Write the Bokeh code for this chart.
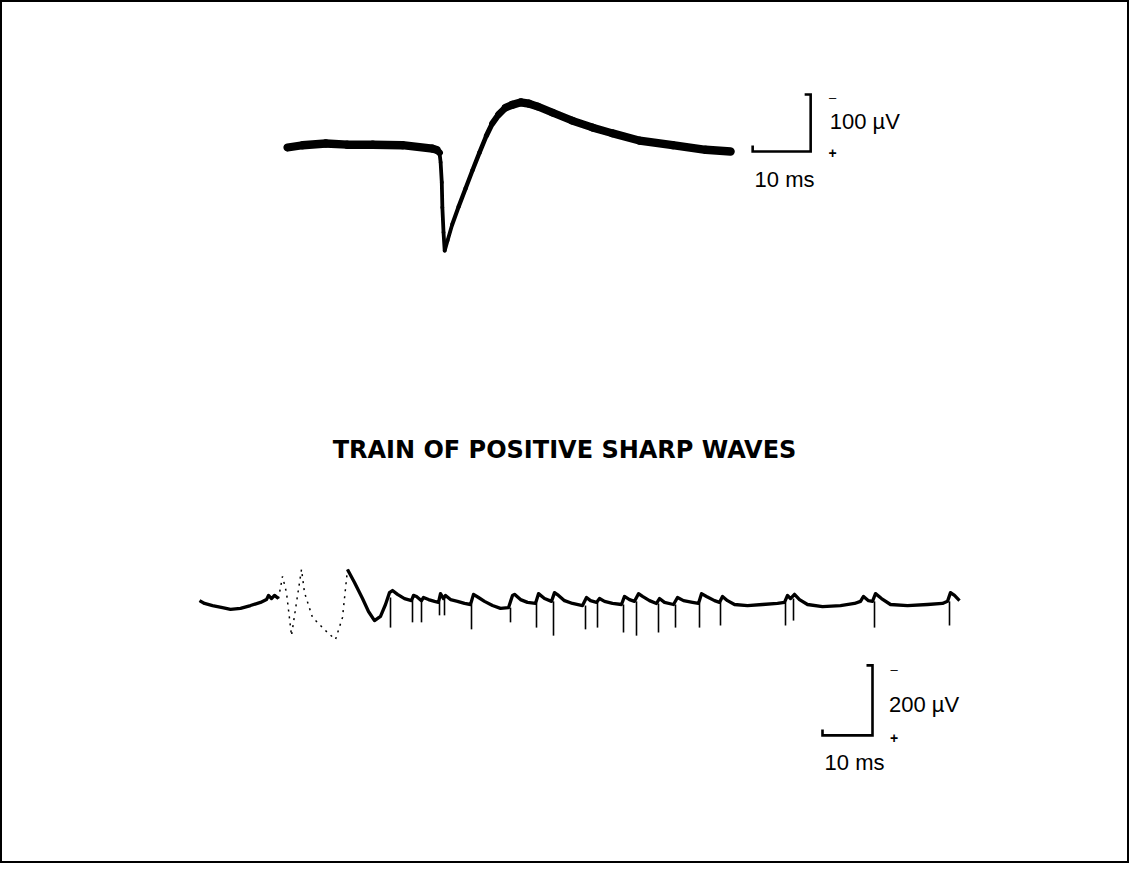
from bokeh.plotting import figure
from bokeh.models import Range1d
from bokeh.core.properties import value
from bokeh.embed import file_html
from bokeh.resources import INLINE

# ---------------- DATA ----------------
# Upper trace: single positive sharp wave (time in ms, potential in uV; + is drawn downward)
top_t = [0, 2.6, 6.6, 10.3, 14.7, 19.8, 25.0, 25.7, 26.2, 26.4, 26.6, 26.7, 26.9, 27.1,
         27.6, 28.4, 29.5, 30.7, 31.9, 33.1, 34.3, 35.3, 36.4, 37.6, 38.8, 40.2, 41.6,
         43.1, 45.7, 49.1, 52.6, 56.0, 60.7, 66.4, 72.1, 76.4]
top_v = [0, -4, -7, -5, -5, -4, 2, 4, 9, 26, 61, 105, 149, 181,
         163, 135, 104, 72, 40, 9, -21, -42, -58, -70, -75, -79, -77,
         -72, -61, -47, -35, -25, -12, -4, 4, 7]

# Lower trace: train of positive sharp waves (ms, uV)
low_a_t = [0, 1, 2.6, 4.6, 6.2, 8.2, 10.2, 12.2, 13.4, 13.8, 14.4, 15, 15.8]
low_a_v = [-11, -3, 3, 9, 14, 11, 3, -6, -14, -26, -17, -26, -17]

# faint (poorly recorded) fast deflections
low_b_t = [15.8, 16.6, 17.4, 18.4, 19.4, 20.4, 21, 22.6, 25.6, 27.2, 28.6, 29.6]
low_b_v = [-17, -80, -34, 89, -6, -100, -34, 37, 80, 100, 37, -100]

low_c_t = [29.6, 31, 32.6, 33.8, 35, 36.2, 37.2, 38, 38.6, 39.6, 41, 42.4, 42.8, 43.4,
           44.4, 44.8, 45.8, 47, 47.8, 48.2, 48.8, 49.2, 50.2, 51.6, 53, 54.2, 54.8,
           55.8, 57, 58.6, 60.2, 61.8, 62.6, 63, 64.2, 65.6, 67.2, 67.8, 69, 70.4,
           71, 71.8, 73, 74.6, 76.6, 77.4, 78.2, 79.4, 80, 81, 82.6, 84.4, 85, 86,
           87, 87.8, 88.6, 90, 91.4, 92, 93, 94.8, 95.6, 96.8, 98.6, 99.8, 100.4,
           101.4, 103, 104, 104.6, 105.6, 107, 109.6, 112.6, 115.6, 117, 117.6,
           118.2, 119, 120, 121.6, 124.6, 128.2, 131, 132.2, 132.8, 133.8, 134.6,
           135.2, 136.4, 138.2, 141.6, 145.6, 148.6, 149.6, 150.2, 151, 152]
low_c_v = [-100, -63, -17, 20, 46, 34, 0, -34, -40, -29, -17, -11, -26, -23,
           -11, -20, -14, -9, -6, -31, -17, -26, -14, -9, -3, 0, -29,
           -20, -9, 3, 11, 9, -26, -29, -14, -6, -3, -31, -17, -9,
           -34, -26, -11, -3, 3, -20, -11, -6, -17, -9, -3, 0, -23, -14,
           -9, -31, -23, -11, -3, -17, -6, 0, -20, -11, -6, -3, -31,
           -23, -11, -6, -23, -11, 0, 3, 0, -3, -6, -26,
           -17, -29, -14, 0, 6, 3, -3, -9, -23, -11, -9,
           -31, -17, 0, 3, 0, -3, -9, -34, -26, -11]

# initial sharp positive spikes of each discharge (time, start, tip)
spike_t = [38.2, 42.6, 44.4, 48, 49, 54.4, 62.2, 67.4, 70.8, 77.2, 79.6, 84.8, 87.4,
           91.8, 95.2, 100, 104.2, 117.2, 118.8, 135, 150]
spike_v0 = [-20, -11, -11, -6, -17, 0, 9, -3, -9, 3, -6, 0, -9,
            -3, 0, -3, -6, -6, -17, -9, -9]
spike_v1 = [66, 51, 51, 31, 31, 71, 51, 66, 89, 71, 66, 80, 89,
            80, 66, 66, 60, 60, 46, 66, 60]

# calibration
top_cal_ms, top_cal_uv = 10, 100
low_cal_ms, low_cal_uv = 10, 200
title = "TRAIN OF POSITIVE SHARP WAVES"

# ---------------- LAYOUT ----------------
W, H = 1129, 863
PX0, PY0 = 8, 8

p = figure(width=W, height=H, x_range=Range1d(PX0, PX0 + W), y_range=Range1d(PY0 + H, PY0),
           output_backend="svg", toolbar_location=None, min_border=0,
           x_axis_type=None, y_axis_type=None)
p.grid.visible = False
p.outline_line_color = "black"
p.outline_line_width = 3
p.background_fill_color = "white"
p.border_fill_color = "white"


def xr(origin, k):
    return Range1d((PX0 - origin) / k, (PX0 + W - origin) / k)


def yr(origin, k):
    return Range1d((PY0 + H - origin) / k, (PY0 - origin) / k)


# trace origins on page (px) and gains (px per ms, px per uV)
KX_TOP, KY_TOP = 5.8, 0.57
KX_LOW, KY_LOW = 5.0, 0.35
p.extra_x_ranges = {"top_t": xr(295, KX_TOP), "low_t": xr(207, KX_LOW)}
p.extra_y_ranges = {"top_v": yr(155, KY_TOP), "low_v": yr(612, KY_LOW)}

TOP = dict(x_range_name="top_t", y_range_name="top_v")
LOW = dict(x_range_name="low_t", y_range_name="low_v")

# upper trace: ink line is thicker where the beam moved slowly
x0s, y0s, x1s, y1s, ws = [], [], [], [], []
for i in range(len(top_t) - 1):
    dx = (top_t[i + 1] - top_t[i]) * KX_TOP
    dy = (top_v[i + 1] - top_v[i]) * KY_TOP
    s = abs(dy) / max(dx, 1e-6)
    x0s.append(top_t[i]); y0s.append(top_v[i]); x1s.append(top_t[i + 1]); y1s.append(top_v[i + 1])
    ws.append(max(3.8, 8.5 - 1.6 * s))
p.segment(x0=x0s, y0=y0s, x1=x1s, y1=y1s, line_width=ws, line_color="black",
          line_cap="round", **TOP)

# lower trace
p.line(low_a_t, low_a_v, line_width=3.3, line_color="black", line_join="round", **LOW)
p.line(low_b_t, low_b_v, line_width=1.5, line_color="black", line_dash="2 5", **LOW)
p.line(low_c_t, low_c_v, line_width=3.3, line_color="black", line_join="round", **LOW)
p.segment(x0=spike_t, y0=spike_v0, x1=spike_t, y1=spike_v1, line_width=1.6,
          line_color="black", **LOW)


def calib(t_end, v_base, ms, uv, kx, ky, rng):
    ht = 6 / kx
    hv = 6 / ky
    xs = [t_end - ms, t_end - ms, t_end, t_end, t_end - ht]
    ys = [v_base - hv, v_base, v_base, v_base - uv, v_base - uv]
    p.line(xs, ys, line_width=2.6, line_color="black", line_join="miter", **rng)


FONT = value("Liberation Sans")

# upper calibration
tb, vb = 90.2, 7
calib(tb, vb, top_cal_ms, top_cal_uv, KX_TOP, KY_TOP, TOP)
p.text(x=[tb + 3.3], y=[vb - top_cal_uv / 2 - 3], text=[f"{top_cal_uv} \u00b5V"],
       text_font=FONT, text_font_size="22px", text_baseline="middle", text_color="black", **TOP)
p.text(x=[tb + 3.8], y=[vb - top_cal_uv + 5], text=["\u2013"], text_font=FONT,
       text_font_size="13px", text_baseline="middle", text_align="center", **TOP)
p.text(x=[tb + 3.8], y=[vb + 2], text=["+"], text_font=FONT, text_font_style="bold",
       text_font_size="14px", text_baseline="middle", text_align="center", **TOP)
p.text(x=[tb - top_cal_ms / 2 + 0.5], y=[vb + 50], text=[f"{top_cal_ms} ms"], text_font=FONT,
       text_font_size="22px", text_baseline="middle", text_align="center", **TOP)

# lower calibration
tl, vl = 134.6, 374
calib(tl, vl, low_cal_ms, low_cal_uv, KX_LOW, KY_LOW, LOW)
p.text(x=[tl + 3.3], y=[vl - low_cal_uv / 2 + 12], text=[f"{low_cal_uv} \u00b5V"],
       text_font=FONT, text_font_size="22px", text_baseline="middle", **LOW)
p.text(x=[tl + 4.3], y=[vl - low_cal_uv + 12], text=["\u2013"], text_font=FONT,
       text_font_size="13px", text_baseline="middle", text_align="center", **LOW)
p.text(x=[tl + 4.3], y=[vl + 6], text=["+"], text_font=FONT, text_font_style="bold",
       text_font_size="14px", text_baseline="middle", text_align="center", **LOW)
p.text(x=[tl - low_cal_ms / 2 + 1.4], y=[vl + 78], text=[f"{low_cal_ms} ms"], text_font=FONT,
       text_font_size="22px", text_baseline="middle", text_align="center", **LOW)

# title between traces (page px)
p.text(x=[572], y=[457], text=[title], text_font=value("DejaVu Sans"), text_font_style="bold",
       text_font_size="24px", text_align="center", text_baseline="middle", text_color="black")

open("out.html", "w").write(file_html(p, INLINE))
